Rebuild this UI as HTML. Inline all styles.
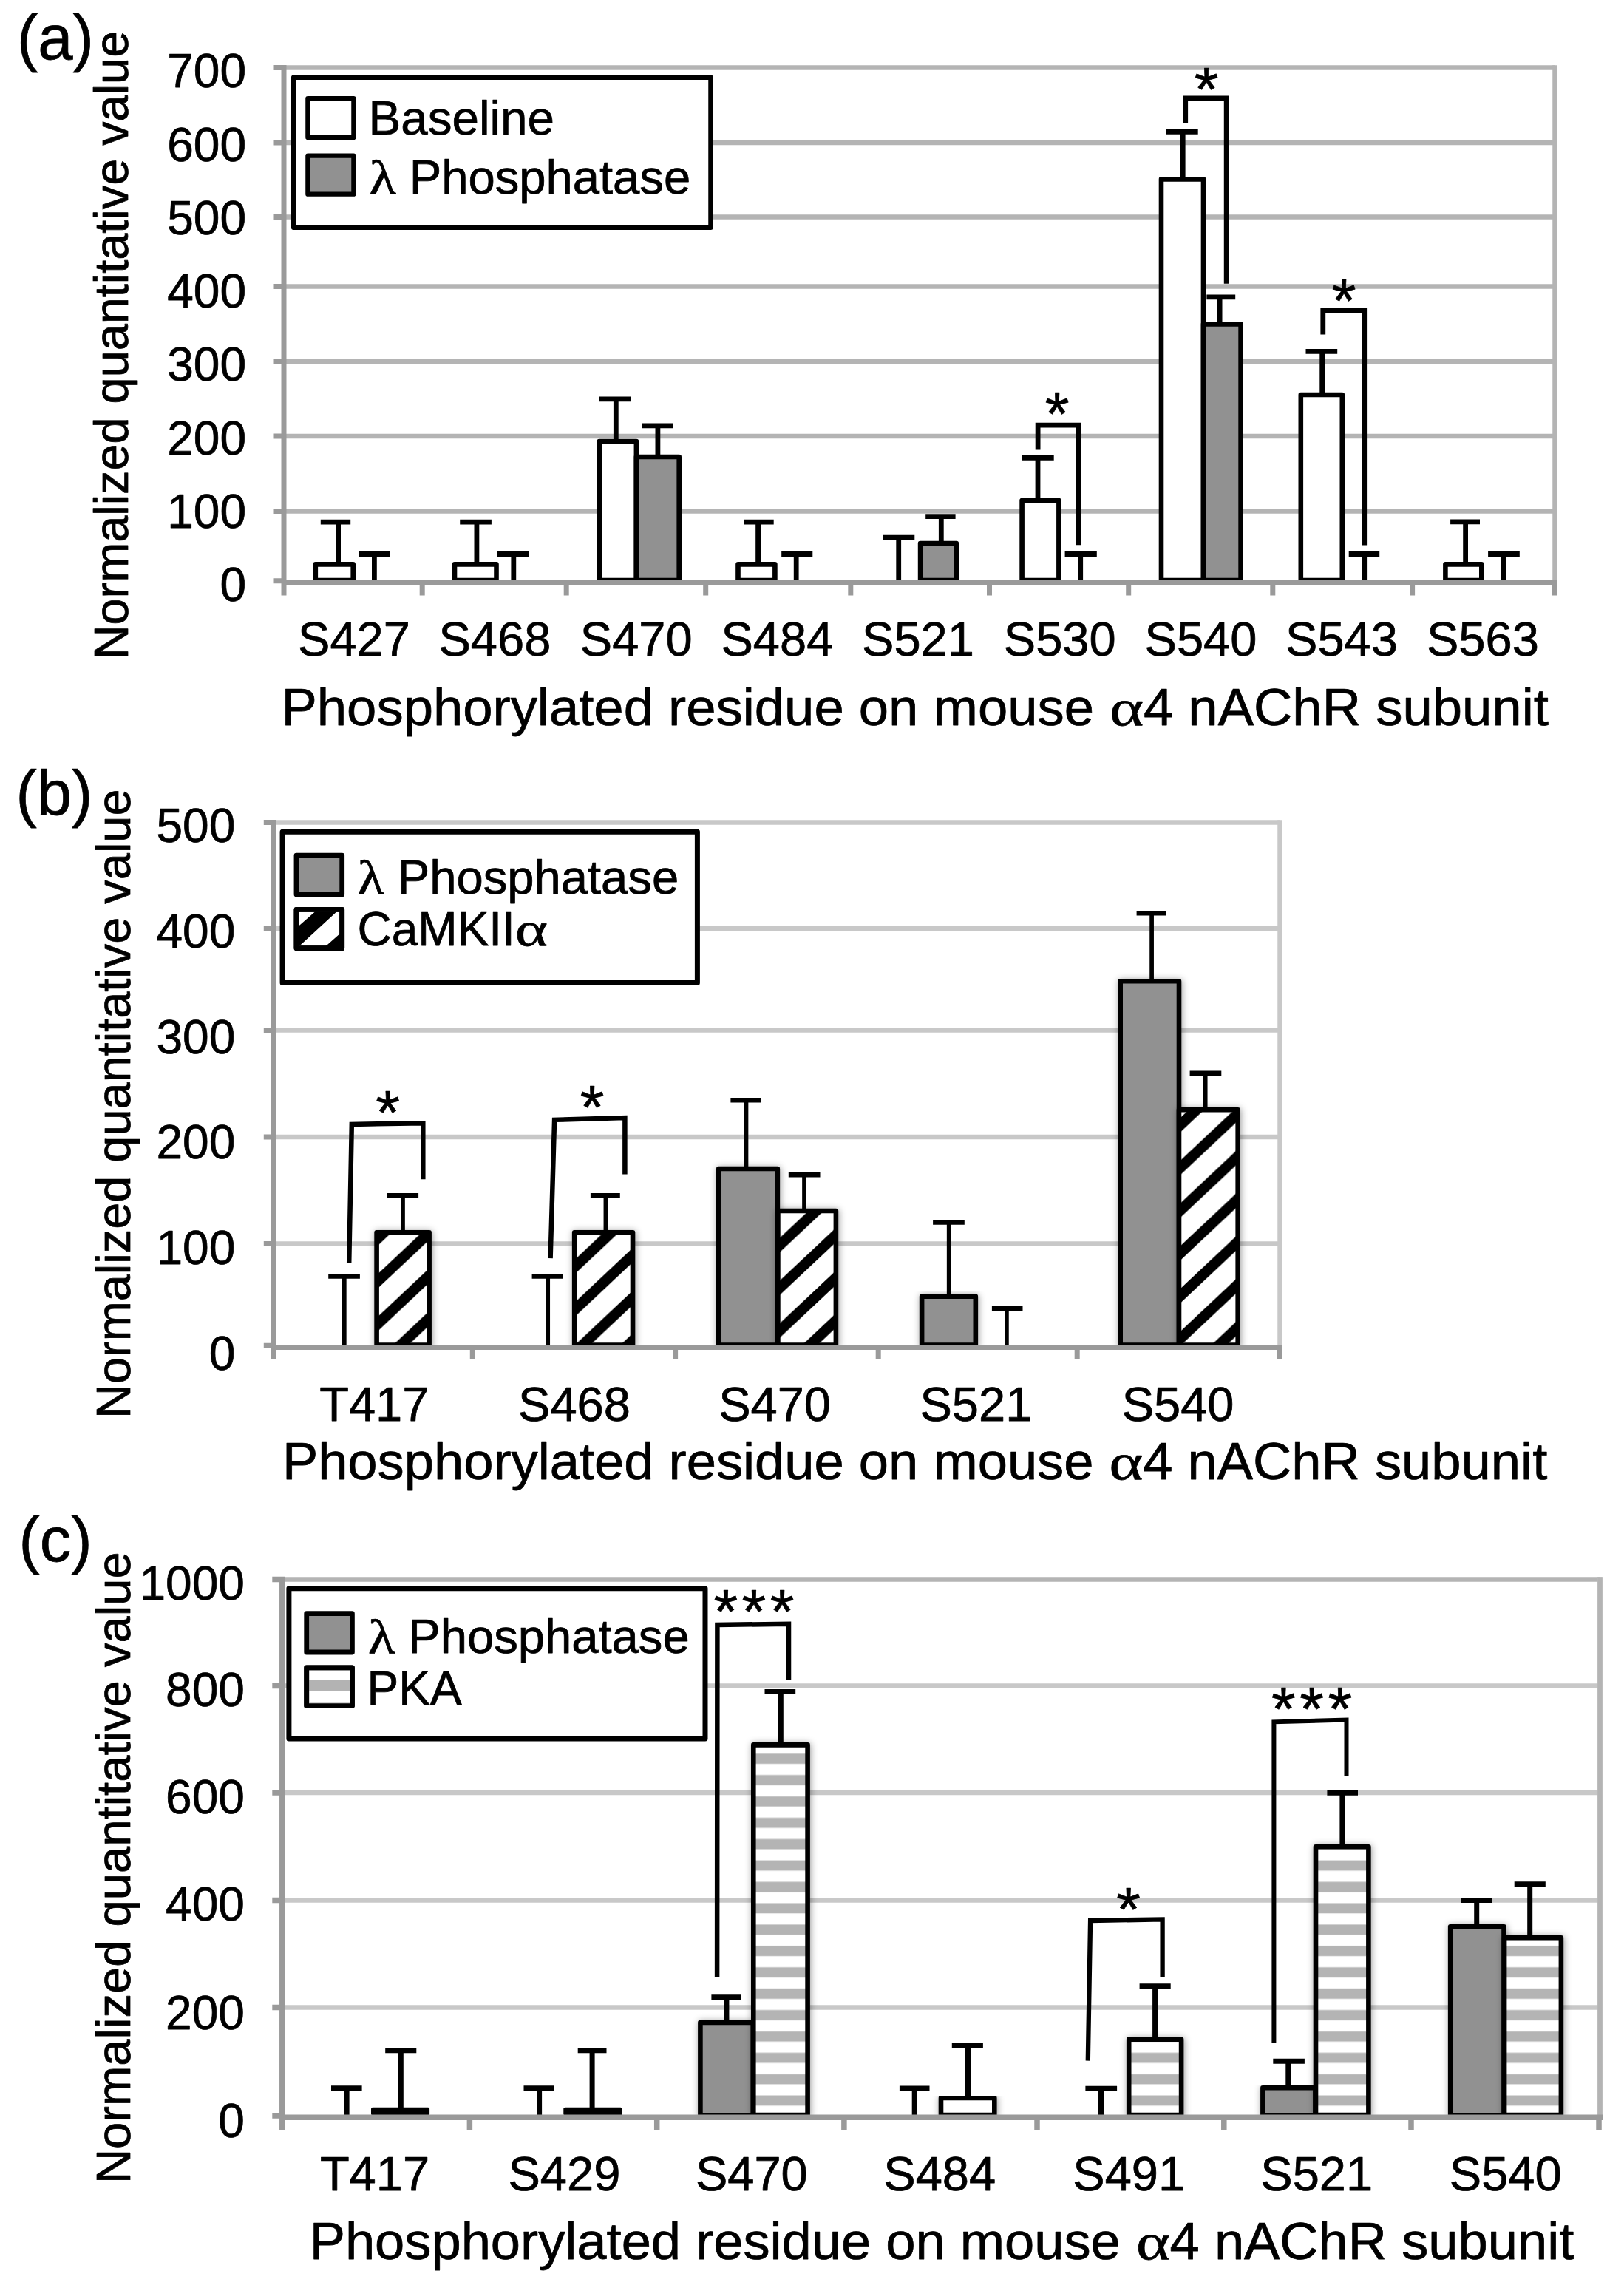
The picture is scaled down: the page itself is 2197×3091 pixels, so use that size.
<!DOCTYPE html>
<html lang="en"><head><meta charset="utf-8"><title>Figure</title>
<style>html,body{margin:0;padding:0;background:#fff}svg{display:block}text{font-family:"Liberation Sans",sans-serif;fill:#000;stroke:#000;stroke-width:.75px;stroke-linejoin:round}text.ser{font-family:"Liberation Serif",serif}</style></head><body>
<svg width="2197" height="3091" viewBox="0 0 2197 3091">
<defs><filter id="sh" x="-30%" y="-10%" width="170%" height="130%"><feDropShadow dx="1" dy="1" stdDeviation="5" flood-color="#000" flood-opacity="0.4"/></filter>
<pattern id="hatch" patternUnits="userSpaceOnUse" width="61.5" height="57.8"><rect width="61.5" height="57.8" fill="#fff"/><path d="M-20 93.5L81.5 -1.9M-20 35.7L81.5 -59.7M-20 151.3L81.5 55.9" stroke="#000" stroke-width="14.2"/></pattern>
<pattern id="stripe" patternUnits="userSpaceOnUse" width="40" height="28.9"><rect width="40" height="28.9" fill="#fff"/><rect y="2.4" width="40" height="13.8" fill="#b4b4b4"/></pattern>
</defs>
<rect width="2197" height="3091" fill="#fff"/>
<path d="M384 91.5H2103.5" stroke="#b4b4b4" stroke-width="6.5"/>
<path d="M384 193H2103.5" stroke="#b4b4b4" stroke-width="6.5"/>
<path d="M384 293.5H2103.5" stroke="#b4b4b4" stroke-width="6.5"/>
<path d="M384 387.5H2103.5" stroke="#b4b4b4" stroke-width="6.5"/>
<path d="M384 489.3H2103.5" stroke="#b4b4b4" stroke-width="6.5"/>
<path d="M384 590H2103.5" stroke="#b4b4b4" stroke-width="6.5"/>
<path d="M384 691.5H2103.5" stroke="#b4b4b4" stroke-width="6.5"/>
<path d="M2103.5 88.25V788" stroke="#b4b4b4" stroke-width="6.5"/>
<rect x="397.2" y="104.7" width="564.3" height="203" fill="#fff" stroke="#000" stroke-width="6.5" stroke-linejoin="round"/>
<rect x="416.4" y="133.1" width="62.0" height="52.8" fill="#fff" stroke="#000" stroke-width="6.3" stroke-linejoin="round"/>
<rect x="416.4" y="210.7" width="62.0" height="52.0" fill="#919191" stroke="#000" stroke-width="6.3" stroke-linejoin="round"/>
<text x="498.5" y="181.5" font-size="64" textLength="251.5" lengthAdjust="spacingAndGlyphs">Baseline</text>
<text x="499.5" y="262.4" font-size="66" textLength="36.5" lengthAdjust="spacingAndGlyphs" class="ser">λ</text>
<text x="553.7" y="262.4" font-size="64" textLength="380.5" lengthAdjust="spacingAndGlyphs">Phosphatase</text>
<rect x="426.8" y="763.4" width="50.9" height="21.7" fill="#fff" stroke="#000" stroke-width="6.6" stroke-linejoin="round"/>
<rect x="615.0" y="763.4" width="56.5" height="21.7" fill="#fff" stroke="#000" stroke-width="6.6" stroke-linejoin="round"/>
<rect x="810.8" y="597.0" width="50.1" height="188.1" fill="#fff" stroke="#000" stroke-width="6.6" stroke-linejoin="round"/>
<rect x="998.5" y="763.4" width="49.9" height="21.7" fill="#fff" stroke="#000" stroke-width="6.6" stroke-linejoin="round"/>
<rect x="1382.6" y="677.0" width="49.8" height="108.1" fill="#fff" stroke="#000" stroke-width="6.6" stroke-linejoin="round"/>
<rect x="1571.0" y="242.4" width="57.0" height="542.7" fill="#fff" stroke="#000" stroke-width="6.6" stroke-linejoin="round"/>
<rect x="1759.8" y="534.0" width="56.0" height="251.1" fill="#fff" stroke="#000" stroke-width="6.6" stroke-linejoin="round"/>
<rect x="1955.4" y="763.4" width="48.9" height="21.7" fill="#fff" stroke="#000" stroke-width="6.6" stroke-linejoin="round"/>
<rect x="860.9" y="618.0" width="57.8" height="167.1" fill="#919191" stroke="#000" stroke-width="6.6" stroke-linejoin="round"/>
<rect x="1245.1" y="735.0" width="48.7" height="50.1" fill="#919191" stroke="#000" stroke-width="6.6" stroke-linejoin="round"/>
<rect x="1628.0" y="438.5" width="50.6" height="346.6" fill="#919191" stroke="#000" stroke-width="6.6" stroke-linejoin="round"/>
<path d="M457.6 763.4V706.2" stroke="#000" stroke-width="6.8" fill="none"/><path d="M433.8 706.2H474.2" stroke="#000" stroke-width="6.8" fill="none"/>
<path d="M506.4 788.0V749.5" stroke="#000" stroke-width="6.8" fill="none"/><path d="M485.3 749.5H528.0" stroke="#000" stroke-width="6.8" fill="none"/>
<path d="M644.9 763.4V706.2" stroke="#000" stroke-width="6.8" fill="none"/><path d="M622.2 706.2H664.9" stroke="#000" stroke-width="6.8" fill="none"/>
<path d="M694.8 788.0V749.5" stroke="#000" stroke-width="6.8" fill="none"/><path d="M672.6 749.5H715.8" stroke="#000" stroke-width="6.8" fill="none"/>
<path d="M833.3 597.0V539.9" stroke="#000" stroke-width="6.8" fill="none"/><path d="M810.6 539.9H853.8" stroke="#000" stroke-width="6.8" fill="none"/>
<path d="M889.9 618.0V575.9" stroke="#000" stroke-width="6.8" fill="none"/><path d="M868.8 575.9H910.9" stroke="#000" stroke-width="6.8" fill="none"/>
<path d="M1025.6 763.4V706.2" stroke="#000" stroke-width="6.8" fill="none"/><path d="M1006.2 706.2H1046.7" stroke="#000" stroke-width="6.8" fill="none"/>
<path d="M1077.2 788.0V749.5" stroke="#000" stroke-width="6.8" fill="none"/><path d="M1057.2 749.5H1099.3" stroke="#000" stroke-width="6.8" fill="none"/>
<path d="M1215.7 788.0V727.2" stroke="#000" stroke-width="6.8" fill="none"/><path d="M1194.7 727.2H1237.3" stroke="#000" stroke-width="6.8" fill="none"/>
<path d="M1273.3 735.0V698.7" stroke="#000" stroke-width="6.8" fill="none"/><path d="M1252.2 698.7H1292.6" stroke="#000" stroke-width="6.8" fill="none"/>
<path d="M1404.0 677.6V619.4" stroke="#000" stroke-width="6.8" fill="none"/><path d="M1383.0 619.4H1425.7" stroke="#000" stroke-width="6.8" fill="none"/>
<path d="M1461.7 788.0V749.5" stroke="#000" stroke-width="6.8" fill="none"/><path d="M1440.6 749.5H1483.8" stroke="#000" stroke-width="6.8" fill="none"/>
<path d="M1600.2 242.4V178.3" stroke="#000" stroke-width="6.8" fill="none"/><path d="M1578.0 178.3H1620.7" stroke="#000" stroke-width="6.8" fill="none"/>
<path d="M1650.1 437.5V401.8" stroke="#000" stroke-width="6.8" fill="none"/><path d="M1632.4 401.8H1671.2" stroke="#000" stroke-width="6.8" fill="none"/>
<path d="M1788.7 534.0V475.3" stroke="#000" stroke-width="6.8" fill="none"/><path d="M1766.5 475.3H1809.2" stroke="#000" stroke-width="6.8" fill="none"/>
<path d="M1845.7 788.0V749.5" stroke="#000" stroke-width="6.8" fill="none"/><path d="M1824.7 749.5H1866.2" stroke="#000" stroke-width="6.8" fill="none"/>
<path d="M1982.6 763.4V705.9" stroke="#000" stroke-width="6.8" fill="none"/><path d="M1962.1 705.9H2002.0" stroke="#000" stroke-width="6.8" fill="none"/>
<path d="M2034.2 788.0V749.5" stroke="#000" stroke-width="6.8" fill="none"/><path d="M2013.1 749.5H2055.8" stroke="#000" stroke-width="6.8" fill="none"/>
<path d="M1404.1 608.6L1404.1 575.2L1458.8 575.2L1458.8 737.3" stroke="#000" stroke-width="6.8" fill="none" stroke-linejoin="miter"/>
<path d="M1603.7 166.0L1603.7 132.8L1659.2 132.8L1659.2 383.7" stroke="#000" stroke-width="6.8" fill="none" stroke-linejoin="miter"/>
<path d="M1789.8 452.5L1789.8 419.8L1845.7 419.8L1845.7 737.5" stroke="#000" stroke-width="6.8" fill="none" stroke-linejoin="miter"/>
<text x="1430.0" y="588.6" font-size="84" text-anchor="middle">*</text>
<text x="1632.0" y="150.1" font-size="84" text-anchor="middle">*</text>
<text x="1818.0" y="435.6" font-size="84" text-anchor="middle">*</text>
<path d="M384 88.0V805.6M384 788H2107.0M369.5 785.7H384M369.5 91.5H384M369.5 193H384M369.5 293.5H384M369.5 387.5H384M369.5 489.3H384M369.5 590H384M369.5 691.5H384M571.2 788V805.6M766.2 788V805.6M954.7 788V805.6M1150.8 788V805.6M1338.5 788V805.6M1526.7 788V805.6M1721.8 788V805.6M1910.6 788V805.6M2103.3 788V805.6" stroke="#9a9a9a" stroke-width="7" fill="none"/>
<text x="333" y="118.19999999999993" font-size="64" text-anchor="end">700</text>
<text x="333" y="217.5" font-size="64" text-anchor="end">600</text>
<text x="333" y="316.79999999999995" font-size="64" text-anchor="end">500</text>
<text x="333" y="416.09999999999997" font-size="64" text-anchor="end">400</text>
<text x="333" y="515.4" font-size="64" text-anchor="end">300</text>
<text x="333" y="614.6999999999999" font-size="64" text-anchor="end">200</text>
<text x="333" y="714.0" font-size="64" text-anchor="end">100</text>
<text x="333" y="813.3" font-size="64" text-anchor="end">0</text>
<text x="479" y="887.3" font-size="65" text-anchor="middle">S427</text>
<text x="669.4" y="887.3" font-size="65" text-anchor="middle">S468</text>
<text x="860.7" y="887.3" font-size="65" text-anchor="middle">S470</text>
<text x="1051.4" y="887.3" font-size="65" text-anchor="middle">S484</text>
<text x="1242" y="887.3" font-size="65" text-anchor="middle">S521</text>
<text x="1433.7" y="887.3" font-size="65" text-anchor="middle">S530</text>
<text x="1624.5" y="887.3" font-size="65" text-anchor="middle">S540</text>
<text x="1815" y="887.3" font-size="65" text-anchor="middle">S543</text>
<text x="2005.9" y="887.3" font-size="65" text-anchor="middle">S563</text>
<text x="380.5" y="981.3" font-size="70" textLength="1099.5" lengthAdjust="spacingAndGlyphs">Phosphorylated residue on mouse</text>
<text x="1501.2" y="981.3" font-size="70" textLength="46.0" lengthAdjust="spacingAndGlyphs" class="ser">α</text>
<text x="1546.9" y="981.3" font-size="70" textLength="548.0" lengthAdjust="spacingAndGlyphs">4 nAChR subunit</text>
<text x="23" y="79.8" font-size="85">(a)</text>
<text transform="translate(172.9 892.3) rotate(-90)" font-size="65.5" textLength="850.5" lengthAdjust="spacingAndGlyphs">Normalized quantitative value</text>
<path d="M370.3 1112.5H1731.5" stroke="#c8c8c8" stroke-width="6.5"/>
<path d="M370.3 1256H1731.5" stroke="#c8c8c8" stroke-width="6.5"/>
<path d="M370.3 1393.6H1731.5" stroke="#c8c8c8" stroke-width="6.5"/>
<path d="M370.3 1538H1731.5" stroke="#c8c8c8" stroke-width="6.5"/>
<path d="M370.3 1682.5H1731.5" stroke="#c8c8c8" stroke-width="6.5"/>
<path d="M1731.5 1109.25V1822.5" stroke="#c8c8c8" stroke-width="6.5"/>
<rect x="382.1" y="1125.3" width="561.3" height="204.1" fill="#fff" stroke="#000" stroke-width="7" stroke-linejoin="round"/>
<rect x="401.0" y="1157.2" width="61.7" height="52.8" fill="#919191" stroke="#000" stroke-width="6.8" stroke-linejoin="round"/>
<rect x="401.0" y="1230.4" width="61.7" height="52.3" fill="#fff" stroke="#000" stroke-width="6.8" stroke-linejoin="round"/>
<path d="M402 1254.5L426.2 1233.2H455.5L402 1282.5ZM439.5 1281L461 1262V1281Z" fill="#000"/>
<rect x="401.0" y="1230.4" width="61.7" height="52.3" fill="none" stroke="#000" stroke-width="6.8" stroke-linejoin="round"/>
<text x="483.5" y="1208.5" font-size="66" textLength="36.5" lengthAdjust="spacingAndGlyphs" class="ser">λ</text>
<text x="537.7" y="1208.5" font-size="64" textLength="380.5" lengthAdjust="spacingAndGlyphs">Phosphatase</text>
<text x="483.5" y="1278.9" font-size="64">CaMKII</text>
<text x="697" y="1278.9" font-size="66" textLength="44" lengthAdjust="spacingAndGlyphs" class="ser">α</text>
<clipPath id="clipB"><rect x="370.3" y="1072.5" width="1401.2" height="750.0"/></clipPath><g clip-path="url(#clipB)">
<rect x="972.3" y="1581.0" width="79.5" height="238.6" fill="#919191" stroke="#000" stroke-width="6.6" stroke-linejoin="round" filter="url(#sh)"/>
<rect x="1247.1" y="1753.8" width="72.7" height="65.8" fill="#919191" stroke="#000" stroke-width="6.6" stroke-linejoin="round" filter="url(#sh)"/>
<rect x="1515.7" y="1327.2" width="79.3" height="492.4" fill="#919191" stroke="#000" stroke-width="6.6" stroke-linejoin="round" filter="url(#sh)"/>
<rect x="509.6" y="1667.2" width="71.0" height="152.4" fill="url(#hatch)" stroke="#000" stroke-width="6.6" stroke-linejoin="round" filter="url(#sh)"/>
<rect x="777.2" y="1667.2" width="78.8" height="152.4" fill="url(#hatch)" stroke="#000" stroke-width="6.6" stroke-linejoin="round" filter="url(#sh)"/>
<rect x="1052.4" y="1638.0" width="78.5" height="181.6" fill="url(#hatch)" stroke="#000" stroke-width="6.6" stroke-linejoin="round" filter="url(#sh)"/>
<rect x="1595.0" y="1501.2" width="79.7" height="318.4" fill="url(#hatch)" stroke="#000" stroke-width="6.6" stroke-linejoin="round" filter="url(#sh)"/>
</g>
<path d="M465.8 1822.5V1726.5" stroke="#000" stroke-width="5.7" fill="none"/><path d="M444.2 1726.5H486.9" stroke="#000" stroke-width="6.6" fill="none"/>
<path d="M545.0 1667.2V1617.3" stroke="#000" stroke-width="5.7" fill="none"/><path d="M524.0 1617.3H566.1" stroke="#000" stroke-width="6.6" fill="none"/>
<path d="M741.2 1822.5V1726.5" stroke="#000" stroke-width="5.7" fill="none"/><path d="M719.6 1726.5H761.2" stroke="#000" stroke-width="6.6" fill="none"/>
<path d="M819.4 1667.2V1617.3" stroke="#000" stroke-width="5.7" fill="none"/><path d="M798.9 1617.3H838.8" stroke="#000" stroke-width="6.6" fill="none"/>
<path d="M1009.5 1581.0V1488.2" stroke="#000" stroke-width="5.7" fill="none"/><path d="M988.4 1488.2H1030.0" stroke="#000" stroke-width="6.6" fill="none"/>
<path d="M1088.0 1638.0V1589.2" stroke="#000" stroke-width="5.7" fill="none"/><path d="M1066.8 1589.2H1109.5" stroke="#000" stroke-width="6.6" fill="none"/>
<path d="M1283.7 1753.8V1653.5" stroke="#000" stroke-width="5.7" fill="none"/><path d="M1262.1 1653.5H1304.8" stroke="#000" stroke-width="6.6" fill="none"/>
<path d="M1361.9 1822.5V1769.9" stroke="#000" stroke-width="5.7" fill="none"/><path d="M1341.9 1769.9H1383.5" stroke="#000" stroke-width="6.6" fill="none"/>
<path d="M1558.1 1327.2V1235.2" stroke="#000" stroke-width="5.7" fill="none"/><path d="M1537.6 1235.2H1578.0" stroke="#000" stroke-width="6.6" fill="none"/>
<path d="M1630.7 1501.2V1451.9" stroke="#000" stroke-width="5.7" fill="none"/><path d="M1609.6 1451.9H1652.3" stroke="#000" stroke-width="6.6" fill="none"/>
<path d="M472.2 1708.6L475.8 1520.9L572.3 1519.3L572.3 1595.3" stroke="#000" stroke-width="6.5" fill="none" stroke-linejoin="miter"/>
<path d="M744.6 1702.1L750.1 1514.8L845.4 1512.0L845.4 1588.5" stroke="#000" stroke-width="6.5" fill="none" stroke-linejoin="miter"/>
<text x="524.5" y="1533.6" font-size="84" text-anchor="middle">*</text>
<text x="801.1" y="1526.6" font-size="84" text-anchor="middle">*</text>
<path d="M370.3 1109.0V1839.0M370.3 1822.5H1735.0M356.8 1820.2H370.3M356.8 1112.5H370.3M356.8 1256H370.3M356.8 1393.6H370.3M356.8 1538H370.3M356.8 1682.5H370.3M639.3 1822.5V1839.0M913.6 1822.5V1839.0M1188.2 1822.5V1839.0M1457.2 1822.5V1839.0M1731.5 1822.5V1839.0" stroke="#9a9a9a" stroke-width="7" fill="none"/>
<text x="318.3" y="1139.3" font-size="64" text-anchor="end">500</text>
<text x="318.3" y="1282.0" font-size="64" text-anchor="end">400</text>
<text x="318.3" y="1424.7" font-size="64" text-anchor="end">300</text>
<text x="318.3" y="1567.4" font-size="64" text-anchor="end">200</text>
<text x="318.3" y="1710.1" font-size="64" text-anchor="end">100</text>
<text x="318.3" y="1852.8" font-size="64" text-anchor="end">0</text>
<text x="432.2" y="1921.5" font-size="65">T417</text>
<text x="701.1" y="1921.5" font-size="65">S468</text>
<text x="972.2" y="1921.5" font-size="65">S470</text>
<text x="1244.5" y="1921.5" font-size="65">S521</text>
<text x="1517.7" y="1921.5" font-size="65">S540</text>
<text x="381.9" y="2000.5" font-size="70" textLength="1097.6" lengthAdjust="spacingAndGlyphs">Phosphorylated residue on mouse</text>
<text x="1500.6352582874547" y="2000.5" font-size="70" textLength="45.9" lengthAdjust="spacingAndGlyphs" class="ser">α</text>
<text x="1546.2575963453205" y="2000.5" font-size="70" textLength="547.0" lengthAdjust="spacingAndGlyphs">4 nAChR subunit</text>
<text x="21.5" y="1102.3" font-size="85">(b)</text>
<text transform="translate(176 1918.9) rotate(-90)" font-size="65.5" textLength="851.4" lengthAdjust="spacingAndGlyphs">Normalized quantitative value</text>
<path d="M381.8 2136.5H2164.5" stroke="#b4b4b4" stroke-width="6.5"/>
<path d="M381.8 2280.5H2164.5" stroke="#c8c8c8" stroke-width="6.5"/>
<path d="M381.8 2425H2164.5" stroke="#c8c8c8" stroke-width="6.5"/>
<path d="M381.8 2570.4H2164.5" stroke="#c8c8c8" stroke-width="6.5"/>
<path d="M381.8 2715.6H2164.5" stroke="#c8c8c8" stroke-width="6.5"/>
<path d="M2164.5 2133.25V2864.2" stroke="#c8c8c8" stroke-width="6.5"/>
<path d="M2164.5 2133.25V2864.2" stroke="#b4b4b4" stroke-width="6.5"/>
<rect x="390.9" y="2148.8" width="563.1" height="203.1" fill="#fff" stroke="#000" stroke-width="7" stroke-linejoin="round"/>
<rect x="414.7" y="2182.7" width="61.7" height="52.3" fill="#919191" stroke="#000" stroke-width="6.8" stroke-linejoin="round"/>
<rect x="414.7" y="2255.8" width="61.7" height="51.8" fill="#fff" stroke="#000" stroke-width="6.8" stroke-linejoin="round"/>
<rect x="414" y="2272.4" width="63" height="14.7" fill="#b3b3b3"/><rect x="414" y="2302" width="63" height="4" fill="#d0d0d0"/>
<rect x="414.7" y="2255.8" width="61.7" height="51.8" fill="none" stroke="#000" stroke-width="6.8" stroke-linejoin="round"/>
<text x="498.0" y="2236.2" font-size="66" textLength="36.5" lengthAdjust="spacingAndGlyphs" class="ser">λ</text>
<text x="552.2" y="2236.2" font-size="64" textLength="380.5" lengthAdjust="spacingAndGlyphs">Phosphatase</text>
<text x="496.5" y="2306.2" font-size="64">PKA</text>
<clipPath id="clipC"><rect x="381.8" y="2096.5" width="1822.7" height="767.6999999999998"/></clipPath><g clip-path="url(#clipC)">
<rect x="947.4" y="2736.0" width="71.3" height="125.3" fill="#919191" stroke="#000" stroke-width="6.6" stroke-linejoin="round" filter="url(#sh)"/>
<rect x="1708.4" y="2824.2" width="71.0" height="37.1" fill="#919191" stroke="#000" stroke-width="6.6" stroke-linejoin="round" filter="url(#sh)"/>
<rect x="1962.2" y="2606.4" width="72.3" height="254.9" fill="#919191" stroke="#000" stroke-width="6.6" stroke-linejoin="round" filter="url(#sh)"/>
<rect x="502.0" y="2850.7" width="79.1" height="10.8" rx="2" fill="#000"/>
<rect x="762.3" y="2850.7" width="79.2" height="10.8" rx="2" fill="#000"/>
<rect x="1019.3" y="2360.4" width="73.3" height="500.6" fill="url(#stripe)" stroke="#000" stroke-width="6.6" stroke-linejoin="round" filter="url(#sh)"/>
<rect x="1273.0" y="2838.0" width="72.3" height="23.0" fill="#fff" stroke="#000" stroke-width="6.6" stroke-linejoin="round" filter="url(#sh)"/>
<rect x="1527.2" y="2758.8" width="70.9" height="102.2" fill="url(#stripe)" stroke="#000" stroke-width="6.6" stroke-linejoin="round" filter="url(#sh)"/>
<rect x="1780.0" y="2498.3" width="71.4" height="362.7" fill="url(#stripe)" stroke="#000" stroke-width="6.6" stroke-linejoin="round" filter="url(#sh)"/>
<rect x="2035.1" y="2621.3" width="76.8" height="239.7" fill="url(#stripe)" stroke="#000" stroke-width="6.6" stroke-linejoin="round" filter="url(#sh)"/>
</g>
<path d="M469.1 2864.2V2824.7" stroke="#000" stroke-width="7" fill="none"/><path d="M448.0 2824.7H489.6" stroke="#000" stroke-width="7" fill="none"/>
<path d="M542.3 2851.0V2773.7" stroke="#000" stroke-width="7" fill="none"/><path d="M521.2 2773.7H563.3" stroke="#000" stroke-width="7" fill="none"/>
<path d="M729.6 2864.2V2824.7" stroke="#000" stroke-width="7" fill="none"/><path d="M708.5 2824.7H749.0" stroke="#000" stroke-width="7" fill="none"/>
<path d="M801.1 2851.0V2773.7" stroke="#000" stroke-width="7" fill="none"/><path d="M781.7 2773.7H820.5" stroke="#000" stroke-width="7" fill="none"/>
<path d="M982.9 2736.0V2701.7" stroke="#000" stroke-width="7" fill="none"/><path d="M962.4 2701.7H1002.3" stroke="#000" stroke-width="7" fill="none"/>
<path d="M1056.3 2360.4V2288.4" stroke="#000" stroke-width="7" fill="none"/><path d="M1034.5 2288.4H1076.2" stroke="#000" stroke-width="7" fill="none"/>
<path d="M1237.2 2864.2V2825.0" stroke="#000" stroke-width="7" fill="none"/><path d="M1216.9 2825.0H1257.5" stroke="#000" stroke-width="7" fill="none"/>
<path d="M1309.5 2838.0V2767.0" stroke="#000" stroke-width="7" fill="none"/><path d="M1287.8 2767.0H1329.9" stroke="#000" stroke-width="7" fill="none"/>
<path d="M1489.5 2864.2V2825.3" stroke="#000" stroke-width="7" fill="none"/><path d="M1468.4 2825.3H1511.1" stroke="#000" stroke-width="7" fill="none"/>
<path d="M1562.6 2758.8V2686.7" stroke="#000" stroke-width="7" fill="none"/><path d="M1541.6 2686.7H1583.7" stroke="#000" stroke-width="7" fill="none"/>
<path d="M1742.8 2824.2V2788.2" stroke="#000" stroke-width="7" fill="none"/><path d="M1722.3 2788.2H1764.9" stroke="#000" stroke-width="7" fill="none"/>
<path d="M1815.9 2498.3V2425.2" stroke="#000" stroke-width="7" fill="none"/><path d="M1795.4 2425.2H1837.0" stroke="#000" stroke-width="7" fill="none"/>
<path d="M1997.7 2606.4V2570.4" stroke="#000" stroke-width="7" fill="none"/><path d="M1976.6 2570.4H2018.2" stroke="#000" stroke-width="7" fill="none"/>
<path d="M2069.7 2621.3V2548.7" stroke="#000" stroke-width="7" fill="none"/><path d="M2048.7 2548.7H2090.8" stroke="#000" stroke-width="7" fill="none"/>
<path d="M970.1 2675.1L970.4 2198.0L1067.0 2196.7L1067.0 2272.6" stroke="#000" stroke-width="6.5" fill="none" stroke-linejoin="miter"/>
<path d="M1471.8 2787.6L1475.1 2598.1L1572.6 2596.4L1572.6 2674.0" stroke="#000" stroke-width="6.3" fill="none" stroke-linejoin="miter"/>
<path d="M1723.4 2763.2L1723.4 2329.3L1821.5 2326.5L1821.5 2402.4" stroke="#000" stroke-width="6" fill="none" stroke-linejoin="miter"/>
<text x="965.4" y="2208.5" font-size="84" letter-spacing="5.5">***</text>
<text x="1526.6" y="2611.7" font-size="84" text-anchor="middle">*</text>
<text x="1720.0" y="2341.2" font-size="84" letter-spacing="5.5">***</text>
<path d="M381.8 2132.75V2882.0M381.8 2864.2H2168.25M368.3 2861.8999999999996H381.8M368.3 2136.5H381.8M368.3 2280.5H381.8M368.3 2425H381.8M368.3 2570.4H381.8M368.3 2715.6H381.8M635.4 2864.2V2882.0M888.7 2864.2V2882.0M1141.9 2864.2V2882.0M1403 2864.2V2882.0M1655.8 2864.2V2882.0M1909 2864.2V2882.0M2163 2864.2V2882.0" stroke="#9a9a9a" stroke-width="7.5" fill="none"/>
<text x="330.9" y="2163.5" font-size="64" text-anchor="end">1000</text>
<text x="330.9" y="2307.8" font-size="64" text-anchor="end">800</text>
<text x="330.9" y="2453" font-size="64" text-anchor="end">600</text>
<text x="330.9" y="2598" font-size="64" text-anchor="end">400</text>
<text x="330.9" y="2744.5" font-size="64" text-anchor="end">200</text>
<text x="330.9" y="2891" font-size="64" text-anchor="end">0</text>
<text x="432.9" y="2963" font-size="65">T417</text>
<text x="687.5" y="2963" font-size="65">S429</text>
<text x="940.9" y="2963" font-size="65">S470</text>
<text x="1195.3" y="2963" font-size="65">S484</text>
<text x="1451.3" y="2963" font-size="65">S491</text>
<text x="1705.3" y="2963" font-size="65">S521</text>
<text x="1960.8" y="2963" font-size="65">S540</text>
<text x="418.7" y="3056.2" font-size="70" textLength="1097.1" lengthAdjust="spacingAndGlyphs">Phosphorylated residue on mouse</text>
<text x="1536.9768185545274" y="3056.2" font-size="70" textLength="45.9" lengthAdjust="spacingAndGlyphs" class="ser">α</text>
<text x="1582.5810354925618" y="3056.2" font-size="70" textLength="546.8" lengthAdjust="spacingAndGlyphs">4 nAChR subunit</text>
<text x="25.5" y="2111.6" font-size="85">(c)</text>
<text transform="translate(175.8 2954) rotate(-90)" font-size="65.5" textLength="854.7" lengthAdjust="spacingAndGlyphs">Normalized quantitative value</text>
</svg></body></html>
